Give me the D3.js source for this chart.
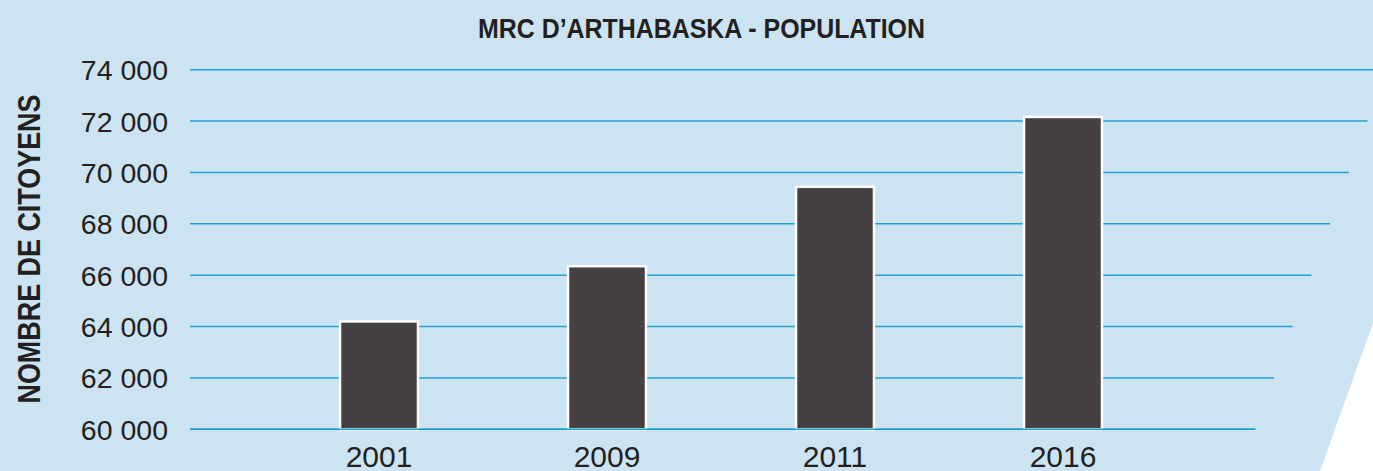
<!DOCTYPE html>
<html>
<head>
<meta charset="utf-8">
<script src="https://cdn.jsdelivr.net/npm/d3@7"></script>
<style>
  body { margin: 0; background: #ffffff; }
  svg { display: block; }
  text { font-family: "Liberation Sans", Arial, sans-serif; fill: #231f20; }
</style>
</head>
<body>
<div class="chart"></div>
<script>
const years = ["2001", "2009", "2011", "2016"];
const population = [64200, 66350, 69440, 72160];
const tickValues = [60000, 62000, 64000, 66000, 68000, 70000, 72000, 74000];

const W = 1373, H = 471;

const svg = d3.select(".chart")
  .append("svg")
  .attr("width", W)
  .attr("height", H);

// light blue panel with slanted bottom-right edge
svg.append("path")
  .attr("d", `M0,0 L${W},0 L${W},323 L1320,${H} L0,${H} Z`)
  .attr("fill", "#cce4f1");

const xScale = d3.scaleBand()
  .domain(years)
  .range([265, 1177])
  .paddingInner(0.658)
  .paddingOuter(0.329);

const yScale = d3.scaleLinear()
  .domain([60000, 74000])
  .range([429.3, 69.7]);

const fmt = d3.formatLocale({ decimal: ",", thousands: " ", grouping: [3], currency: ["", ""] }).format(",");

// grid lines, each one ends a bit further left going down
const gridEnd = y => 1255.3 + (yScale(60000) - y) * 0.364;

svg.selectAll(".grid")
  .data(tickValues)
  .enter()
  .append("line")
  .attr("class", "grid")
  .attr("x1", 190)
  .attr("x2", d => Math.min(W, gridEnd(yScale(d))))
  .attr("y1", d => yScale(d))
  .attr("y2", d => yScale(d))
  .attr("stroke", "#22a0d5")
  .attr("stroke-width", 1.6);

// tick labels
svg.selectAll(".ylab")
  .data(tickValues)
  .enter()
  .append("text")
  .attr("class", "ylab")
  .attr("x", 168)
  .attr("y", d => yScale(d) + 10.5)
  .attr("text-anchor", "end")
  .style("font-size", "28.5px")
  .text(d => fmt(d));

// bars
const data = years.map((y, i) => ({ year: y, value: population[i] }));

svg.selectAll(".bar")
  .data(data)
  .enter()
  .append("rect")
  .attr("class", "bar")
  .attr("x", d => xScale(d.year))
  .attr("y", d => yScale(d.value))
  .attr("width", xScale.bandwidth())
  .attr("height", d => yScale(60000) - yScale(d.value))
  .attr("fill", "#454142")
  .attr("stroke", "#ffffff")
  .attr("stroke-width", 2.5);

// baseline over the bars
svg.append("line")
  .attr("x1", 190)
  .attr("x2", gridEnd(yScale(60000)))
  .attr("y1", yScale(60000))
  .attr("y2", yScale(60000))
  .attr("stroke", "#1e9bd0")
  .attr("stroke-width", 1.6);

// year labels
svg.selectAll(".xlab")
  .data(years)
  .enter()
  .append("text")
  .attr("class", "xlab")
  .attr("x", d => xScale(d) + xScale.bandwidth() / 2)
  .attr("y", 467)
  .attr("text-anchor", "middle")
  .style("font-size", "30px")
  .text(d => d);

// title
svg.append("text")
  .attr("x", 701.5)
  .attr("y", 38)
  .attr("text-anchor", "middle")
  .attr("textLength", 447)
  .attr("lengthAdjust", "spacingAndGlyphs")
  .style("font-size", "27.5px")
  .style("font-weight", "bold")
  .text("MRC D\u2019ARTHABASKA - POPULATION");

// y axis title
svg.append("text")
  .attr("transform", "translate(40,249) rotate(-90)")
  .attr("text-anchor", "middle")
  .attr("textLength", 309)
  .attr("lengthAdjust", "spacingAndGlyphs")
  .style("font-size", "31px")
  .style("font-weight", "bold")
  .text("NOMBRE DE CITOYENS");
</script>
</body>
</html>
